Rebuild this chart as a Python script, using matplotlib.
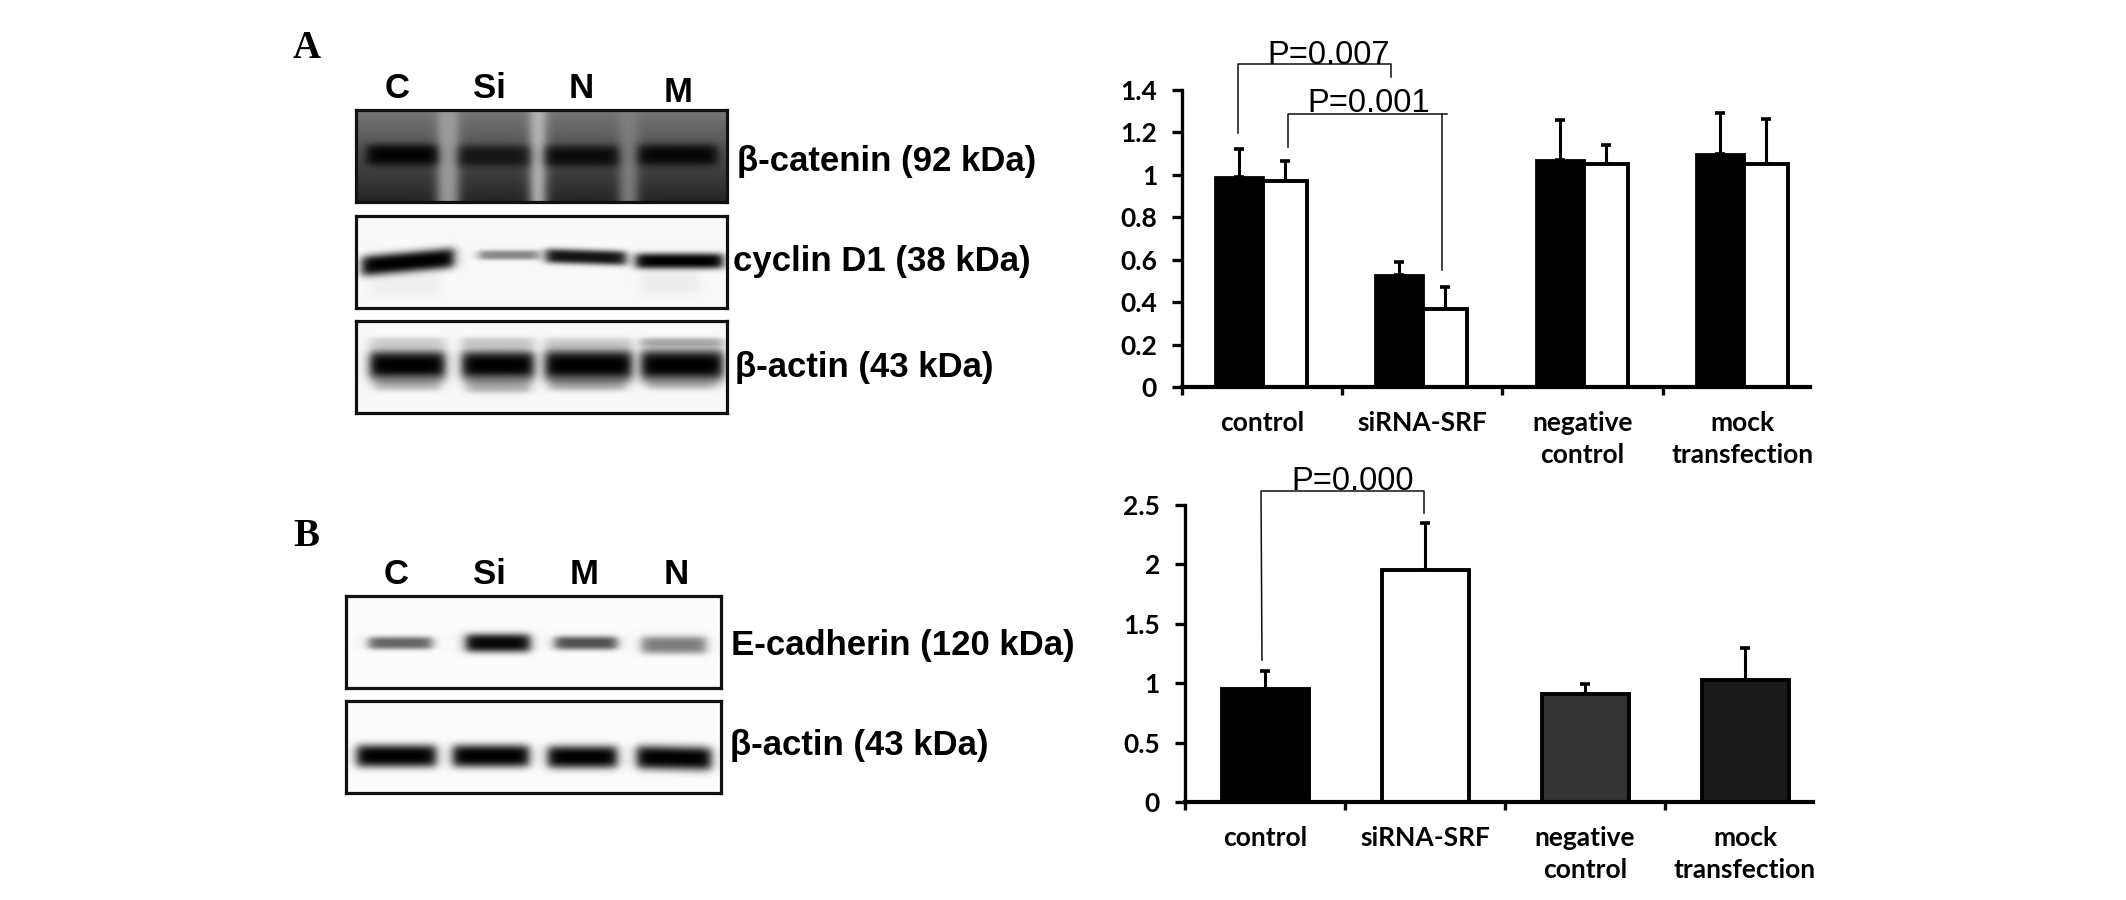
import numpy as np
import matplotlib
matplotlib.use("Agg")
import matplotlib.pyplot as plt
from matplotlib.lines import Line2D

W, H = 2126, 900

# ---- data ----
categories = ["control", "siRNA-SRF", "negative\ncontrol", "mock\ntransfection"]
a_black = [0.99, 0.53, 1.07, 1.10]
a_black_top = [1.12, 0.59, 1.26, 1.29]
a_white = [0.97, 0.37, 1.05, 1.05]
a_white_top = [1.065, 0.47, 1.14, 1.265]
a_ticks = [0, 0.2, 0.4, 0.6, 0.8, 1, 1.2, 1.4]
a_ticklabels = ["0", "0.2", "0.4", "0.6", "0.8", "1", "1.2", "1.4"]

b_values = [0.95, 1.95, 0.91, 1.03]
b_tops = [1.10, 2.35, 0.99, 1.30]
b_colors = ["#000000", "#ffffff", "#333333", "#1a1a1a"]
b_ticks = [0, 0.5, 1, 1.5, 2, 2.5]
b_ticklabels = ["0", "0.5", "1", "1.5", "2", "2.5"]

lanes_a = ["C", "Si", "N", "M"]
lanes_b = ["C", "Si", "M", "N"]

# band darkness per lane
catenin_dark = [0.97, 0.72, 0.85, 0.92]
cyclin_dark = [1.0, 0.45, 0.92, 1.0]
actin_a_dark = [1.0, 1.0, 1.0, 1.0]
cadherin_dark = [0.6, 0.97, 0.68, 0.5]
actin_b_dark = [1.0, 1.0, 1.0, 1.0]

LABEL = "Liberation Sans"
CHART = "Lato"

fig = plt.figure(figsize=(W / 100, H / 100), dpi=100, facecolor="white")


def rect(x0, y0, x1, y1):
    return [x0 / W, 1 - y1 / H, (x1 - x0) / W, (y1 - y0) / H]


def sig(v, s):
    return 1 / (1 + np.exp(-v / s))


def blot(box, base, bands, strips=()):
    x0, y0, x1, y1 = box
    ax = fig.add_axes(rect(x0, y0, x1, y1))
    xs, ys = np.meshgrid(np.arange(x0, x1) + .5, np.arange(y0, y1) + .5)
    img = base(xs, ys)
    for sx0, sx1, lev in strips:
        m = sig(xs - sx0, 3) * sig(sx1 - xs, 3)
        img = img * (1 - m) + lev * m
    for bx0, bx1, yc, h, dark, slope in bands:
        m = sig(xs - bx0, 3) * sig(bx1 - xs, 3)
        yy = yc + slope * (xs - (bx0 + bx1) / 2)
        m = m * np.exp(-(np.abs(ys - yy) / h) ** 3)
        img = img * (1 - m * dark)
    ax.imshow(img, cmap="gray", vmin=0, vmax=1, aspect="auto", interpolation="bilinear")
    ax.set_xticks([])
    ax.set_yticks([])
    for s in ax.spines.values():
        s.set_linewidth(2.3)
        s.set_color("#111111")


def flat(level):
    return lambda xs, ys: np.full_like(xs, level, dtype=float)


def catenin_base(xs, ys):
    t = (ys - 110) / 92
    return 0.46 - 0.32 * t


blot((356, 110, 727, 202), catenin_base,
     [(367, 437, 155, 11, catenin_dark[0], 0), (459, 529, 156, 11, catenin_dark[1], 0),
      (546, 618, 156, 11, catenin_dark[2], 0), (639, 717, 155, 11, catenin_dark[3], 0)],
     strips=[(438, 458, 0.62), (531, 545, 0.75), (620, 637, 0.5)])
blot((356, 216, 727, 308), flat(0.975),
     [(362, 454, 262, 10.5, cyclin_dark[0], -0.09), (479, 539, 255, 5, cyclin_dark[1], 0),
      (546, 626, 257, 7.5, cyclin_dark[2], 0.03), (636, 723, 261, 8, cyclin_dark[3], 0),
      (640, 700, 283, 12, 0.05, 0), (370, 440, 285, 14, 0.04, 0)])
blot((356, 321, 727, 413), flat(0.97),
     [(370, 445, 342, 5, 0.14, 0), (462, 534, 342, 5, 0.17, 0), (545, 632, 342, 5, 0.13, 0), (641, 723, 342, 4.5, 0.28, 0),
      (375, 440, 384, 7, 0.25, 0), (467, 530, 385, 8, 0.3, 0), (550, 625, 384, 7, 0.28, 0), (648, 715, 384, 6, 0.2, 0),
      (370, 445, 365, 15, actin_a_dark[0], 0), (462, 534, 365, 15, actin_a_dark[1], 0),
      (545, 632, 365, 16, actin_a_dark[2], 0), (641, 723, 365, 16, actin_a_dark[3], 0)])
blot((346, 596, 721, 688), flat(0.985),
     [(369, 432, 643, 6.5, cadherin_dark[0], 0), (466, 530, 643, 9.5, cadherin_dark[1], 0),
      (555, 617, 643, 7, cadherin_dark[2], 0), (642, 706, 645, 9, cadherin_dark[3], 0)])
blot((346, 701, 721, 793), flat(0.985),
     [(357, 436, 756, 11.5, actin_b_dark[0], 0), (453, 529, 756, 11.5, actin_b_dark[1], 0),
      (548, 617, 757, 11.5, actin_b_dark[2], 0), (637, 711, 758, 12, actin_b_dark[3], 0.02)])


def ftext(x, y, s, **kw):
    fig.text(x / W, 1 - y / H, s, **kw)


def fline(xs, ys, lw=1.1):
    fig.add_artist(Line2D([x / W for x in xs], [1 - y / H for y in ys], color="#111111", lw=lw))


# panel letters
ftext(293, 48, "A", family="Liberation Serif", weight="bold", fontsize=28, va="center", ha="left")
ftext(293, 537, "B", family="Liberation Serif", weight="bold", fontsize=28, va="center", ha="left")

# lane headers
for x, y, s in zip([397, 489, 581, 678], [88, 89, 89, 92], lanes_a):
    ftext(x, y, s, family=LABEL, weight="bold", fontsize=25, ha="center", va="center")
for x, s in zip([396, 489, 584, 676], lanes_b):
    ftext(x, 574, s, family=LABEL, weight="bold", fontsize=25, ha="center", va="center")

# blot labels
for x, y, s in [(737, 162, "β-catenin (92 kDa)"), (733, 262, "cyclin D1 (38 kDa)"),
                (735, 367, "β-actin (43 kDa)"), (731, 645, "E-cadherin (120 kDa)"),
                (730, 745, "β-actin (43 kDa)")]:
    ftext(x, y, s, family=LABEL, weight="bold", fontsize=25, ha="left", va="center")


def style(ax, ticks, labels, top, xmax):
    ax.set_ylim(0, top)
    ax.set_xlim(0, xmax)
    for s in ("top", "right"):
        ax.spines[s].set_visible(False)
    ax.spines["left"].set_linewidth(2.4)
    ax.spines["bottom"].set_linewidth(3.0)
    ax.set_yticks(ticks)
    ax.set_yticklabels(labels, family=CHART, weight="bold", fontsize=19)
    ax.set_xticks([0, 1, 2, 3])
    ax.set_xticklabels([])
    ax.set_xticks([0.5, 1.5, 2.5, 3.5], minor=True)
    ax.set_xticklabels(categories, minor=True, family=CHART, weight="bold", fontsize=19, linespacing=1.42)
    ax.tick_params(axis="y", length=7, width=2.4, pad=11)
    ax.tick_params(axis="x", which="major", length=6, width=2.4)
    ax.tick_params(axis="x", which="minor", length=0, pad=17)
    ax.patch.set_alpha(0)


centers = np.arange(4) + 0.5

# chart A
axa = fig.add_axes(rect(1182, 90, 1810, 387))
px = 160.2
xb = centers - 23 / px
xw = centers + 23 / px
axa.bar(xb, a_black, width=48 / px, color="black", edgecolor="black", lw=2)
axa.bar(xw, a_white, width=44 / px, color="white", edgecolor="black", lw=2.8, zorder=2)
for xs, v, t in ((xb, a_black, a_black_top), (xw, a_white, a_white_top)):
    v, t = np.array(v), np.array(t)
    axa.errorbar(xs, v, yerr=[np.zeros(4), t - v], fmt="none", ecolor="black",
                 elinewidth=2.2, capsize=3.5, capthick=2.6, zorder=1)
style(axa, a_ticks, a_ticklabels, 1.4, 628 / px)

# chart B
axb = fig.add_axes(rect(1185, 505, 1813, 802))
px = 160.0
axb.bar(centers, b_values, width=87 / px, color=b_colors, edgecolor="black", lw=2.8, zorder=2)
v, t = np.array(b_values), np.array(b_tops)
axb.errorbar(centers, v, yerr=[np.zeros(4), t - v], fmt="none", ecolor="black",
             elinewidth=2.2, capsize=3.5, capthick=2.6, zorder=1)
style(axb, b_ticks, b_ticklabels, 2.5, 628 / px)

# significance brackets
fline([1238, 1238, 1391, 1391], [133, 64, 64, 77])
fline([1288, 1288, 1447], [147, 114, 114])
fline([1442, 1442], [114, 270])
fline([1262, 1261, 1424, 1424], [660, 491, 491, 513])
for x, y, s in [(1329, 56, "P=0.007"), (1369, 104, "P=0.001"), (1353, 482, "P=0.000")]:
    ftext(x, y, s, family=LABEL, fontsize=23.5, ha="center", va="center")

fig.savefig("out.png", dpi=100, facecolor="white")
